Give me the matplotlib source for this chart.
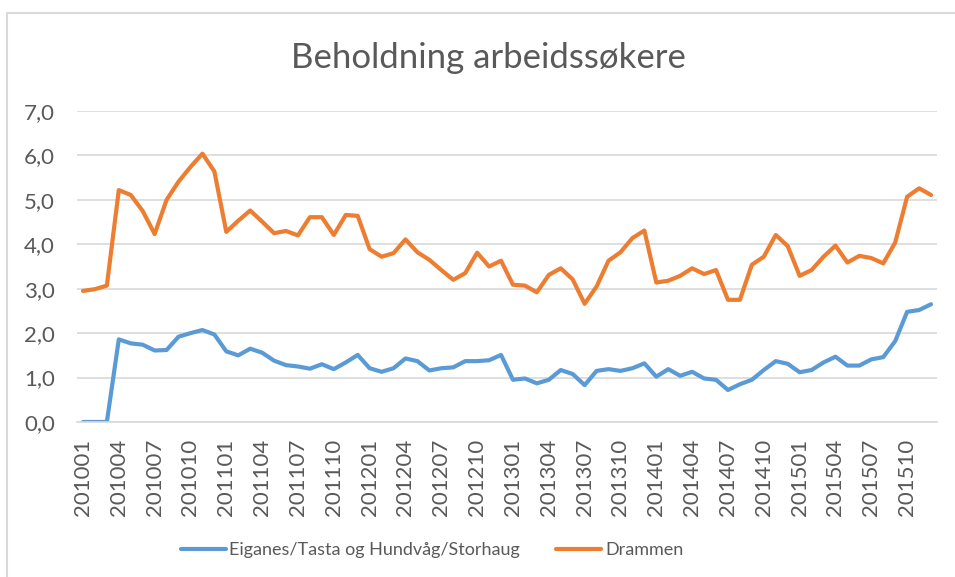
import matplotlib.pyplot as plt
from matplotlib.lines import Line2D

plt.rcParams["font.family"] = ["Lato", "DejaVu Sans"]

# months 201001 .. 201512
periods = [f"{y}{m:02d}" for y in range(2010, 2016) for m in range(1, 13)]

eiganes = [
    0.00, 0.00, 0.00, 1.86, 1.77, 1.74, 1.61, 1.62, 1.92, 2.00, 2.07, 1.97,
    1.59, 1.50, 1.65, 1.56, 1.38, 1.28, 1.25, 1.20, 1.30, 1.19, 1.34, 1.51,
    1.21, 1.13, 1.21, 1.43, 1.37, 1.16, 1.21, 1.23, 1.37, 1.37, 1.39, 1.51,
    0.95, 0.98, 0.87, 0.95, 1.17, 1.08, 0.83, 1.15, 1.19, 1.15, 1.21, 1.32,
    1.02, 1.19, 1.04, 1.13, 0.98, 0.95, 0.72, 0.85, 0.95, 1.17, 1.37, 1.31,
    1.12, 1.17, 1.34, 1.47, 1.27, 1.27, 1.41, 1.46, 1.82, 2.48, 2.52, 2.65,
]
drammen = [
    2.95, 2.99, 3.07, 5.22, 5.11, 4.75, 4.23, 5.00, 5.41, 5.74, 6.04, 5.64,
    4.28, 4.53, 4.76, 4.51, 4.25, 4.30, 4.20, 4.61, 4.61, 4.21, 4.66, 4.64,
    3.89, 3.72, 3.80, 4.11, 3.82, 3.65, 3.42, 3.20, 3.35, 3.81, 3.50, 3.63,
    3.09, 3.07, 2.92, 3.31, 3.46, 3.21, 2.66, 3.05, 3.63, 3.82, 4.14, 4.31,
    3.14, 3.18, 3.29, 3.46, 3.33, 3.42, 2.75, 2.75, 3.54, 3.72, 4.21, 3.96,
    3.29, 3.42, 3.72, 3.97, 3.59, 3.74, 3.69, 3.57, 4.04, 5.07, 5.26, 5.11,
]

BLUE = "#5B9BD5"
ORANGE = "#ED7D31"
GRID = "#D9D9D9"
TEXT = "#595959"

W, H = 955, 577
fig = plt.figure(figsize=(W / 100, H / 100), dpi=100)

# chart area border (left and top visible)
fig.add_artist(Line2D([7 / W, 7 / W, 1.0], [0.0, 1 - 13 / H, 1 - 13 / H],
                      transform=fig.transFigure, color=GRID, lw=1.5))

ax = fig.add_axes([77 / W, 1 - 422 / H, (937 - 77) / W, (422 - 111) / H])
x = range(len(periods))
ax.plot(x, eiganes, color=BLUE, lw=3.0, solid_capstyle="round", solid_joinstyle="round")
ax.plot(x, drammen, color=ORANGE, lw=3.0, solid_capstyle="round", solid_joinstyle="round")

ax.set_xlim(-0.5, len(periods) - 0.5)
ax.set_ylim(0, 7)
ax.set_yticks(range(8))
ax.set_yticklabels([f"{v},0" for v in range(8)])
ax.set_xticks(list(x)[::3])
ax.set_xticklabels(periods[::3], rotation=90)
ax.tick_params(axis="y", length=0, pad=16, labelsize=16, labelcolor=TEXT)
ax.tick_params(axis="x", length=0, pad=12, labelsize=16, labelcolor=TEXT)

ax.grid(axis="y", color=GRID, lw=1.2)
ax.set_axisbelow(True)
for s in ["top", "right", "left"]:
    ax.spines[s].set_visible(False)
ax.spines["bottom"].set_color(GRID)
ax.spines["bottom"].set_linewidth(1.2)

fig.text(488 / W, 1 - 58 / H, "Beholdning arbeidssøkere", ha="center", va="center",
         fontsize=25, color=TEXT)

handles = [Line2D([], [], color=BLUE, lw=3.0, solid_capstyle="round"),
           Line2D([], [], color=ORANGE, lw=3.0, solid_capstyle="round")]
fig.legend(handles, ["Eiganes/Tasta og Hundvåg/Storhaug", "Drammen"],
           loc="center", bbox_to_anchor=(432 / W, 1 - 550 / H), ncol=2, frameon=False,
           fontsize=13, labelcolor=TEXT, handlelength=2.5, handletextpad=0.2,
           columnspacing=2.0)

fig.savefig("out.png", dpi=100)
